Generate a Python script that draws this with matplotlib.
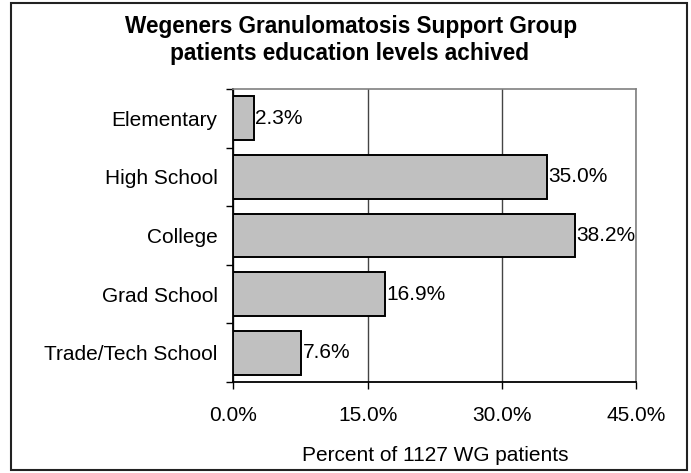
import matplotlib
matplotlib.use("Agg")
import matplotlib.pyplot as plt
from matplotlib.patches import Rectangle

categories = ["Elementary", "High School", "College", "Grad School", "Trade/Tech School"]
values = [2.3, 35.0, 38.2, 16.9, 7.6]
xticks = [0, 15, 30, 45]
xtick_labels = ["0.0%", "15.0%", "30.0%", "45.0%"]
title_lines = ["Wegeners Granulomatosis Support Group", "patients education levels achived"]
xlabel = "Percent of 1127 WG patients"

plt.rcParams['font.family'] = ['Liberation Sans', 'DejaVu Sans']

W, H = 691, 473
fig = plt.figure(figsize=(W / 100, H / 100), dpi=100)
fig.patches.append(Rectangle((11/W, 3/H), 676/W, 467/H, transform=fig.transFigure,
                             fill=False, edgecolor='#222222', linewidth=1.5))
ax = fig.add_axes([233.5/W, (H-382)/H, (636-233.5)/W, (382-89)/H])

y = list(range(len(categories)))
ax.barh(y, values, height=0.75, color='#C0C0C0', edgecolor='black', linewidth=1.4, zorder=3)
for yi, v in zip(y, values):
    ax.annotate(f"{v:.1f}%", (v, yi), xytext=(1, 0), textcoords='offset points',
                va='center', ha='left', fontsize=15, zorder=4)

ax.set_xlim(0, 45)
ax.set_ylim(len(categories) - 0.5, -0.5)
ax.set_xticks(xticks)
ax.set_xticklabels(xtick_labels, fontsize=15)
ax.set_yticks(y)
ax.set_yticklabels(categories, fontsize=15)
ax.set_yticks([i - 0.5 for i in range(len(categories) + 1)], minor=True)
ax.tick_params(axis='y', which='major', length=0, pad=11.5)
ax.tick_params(axis='y', which='minor', length=5, width=1, color='black', direction='out')
ax.tick_params(axis='x', which='major', length=5, width=1, direction='out', pad=12.5)
ax.xaxis.grid(True, color='#444444', linewidth=1, zorder=0)
ax.set_axisbelow(True)
for s in ['top', 'right']:
    ax.spines[s].set_color('#808080')
    ax.spines[s].set_linewidth(1.2)
for s in ['left', 'bottom']:
    ax.spines[s].set_color('black')
    ax.spines[s].set_linewidth(1.3)
ax.set_xlabel(xlabel, fontsize=15, labelpad=15)

fig.text(351/W, 1 - 33/H, title_lines[0], ha='center', va='baseline', fontsize=16.3,
         fontweight='bold')
fig.text(350/W, 1 - 60/H, title_lines[1], ha='center', va='baseline', fontsize=16.3,
         fontweight='bold')

fig.savefig("out.png", dpi=100)
